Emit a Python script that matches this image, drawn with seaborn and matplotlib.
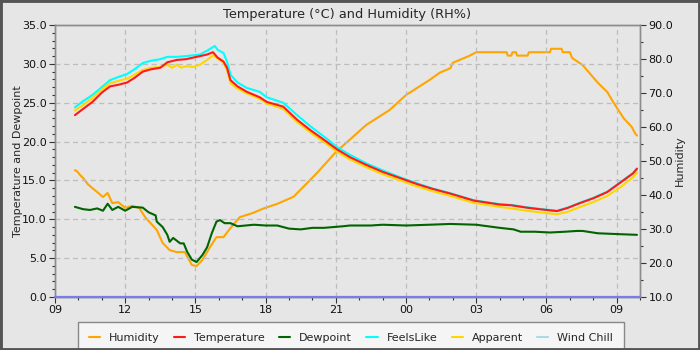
import matplotlib
matplotlib.use("Agg")
import matplotlib.pyplot as plt
from matplotlib.ticker import MultipleLocator, FormatStrFormatter
import seaborn as sns

# ---- data (hours since 00:00 of day 1) ----
temp_h = [9.85, 10.2, 10.6, 11.0, 11.35, 11.7, 12.08, 12.4, 12.75, 13.1, 13.5, 13.8, 14.2, 14.6, 14.9,
          15.2, 15.5, 15.75, 15.95, 16.2, 16.35, 16.5, 16.8, 17.2, 17.75, 18.05, 18.75, 19.35, 19.9,
          20.6, 21.05, 21.6, 22.3, 23.0, 23.75, 24.5, 25.15, 25.9, 26.9, 28.0, 28.5, 29.15, 29.7,
          30.0, 30.45, 30.9, 31.45, 32.0, 32.6, 33.15, 33.7, 33.87]
temperature = [23.4, 24.2, 25.1, 26.3, 27.1, 27.3, 27.6, 28.2, 29.0, 29.3, 29.5, 30.2, 30.5, 30.6, 30.8,
               31.0, 31.2, 31.5, 30.8, 30.3, 29.5, 27.9, 27.1, 26.4, 25.7, 25.1, 24.5, 22.8, 21.5,
               20.0, 19.0, 18.0, 17.0, 16.1, 15.3, 14.5, 13.9, 13.3, 12.4, 11.9, 11.8, 11.5, 11.3,
               11.2, 11.05, 11.45, 12.1, 12.7, 13.5, 14.7, 15.9, 16.5]

feels_h = [9.85, 10.2, 10.6, 11.0, 11.35, 11.7, 12.08, 12.4, 12.75, 13.1, 13.5, 13.8, 14.2, 14.6, 14.9,
           15.2, 15.5, 15.83, 15.95, 16.2, 16.35, 16.5, 16.8, 17.2, 17.75, 18.05, 18.75, 19.35, 19.9,
           20.6, 21.05, 21.6, 22.3, 23.0, 23.75, 24.5, 25.15, 25.9, 26.9, 28.0, 28.5, 29.15, 29.7,
           30.0, 30.45, 30.9, 31.45, 32.0, 32.6, 33.15, 33.7, 33.87]
feelslike = [24.4, 25.2, 26.0, 27.0, 27.9, 28.3, 28.7, 29.3, 30.1, 30.4, 30.6, 30.9, 30.9, 31.0, 31.1,
             31.2, 31.7, 32.3, 31.8, 31.4, 30.3, 28.6, 27.6, 26.9, 26.4, 25.7, 25.0, 23.4, 22.0,
             20.4, 19.3, 18.3, 17.2, 16.3, 15.4, 14.6, 13.95, 13.35, 12.45, 11.95, 11.85, 11.55, 11.35,
             11.25, 11.1, 11.5, 12.15, 12.75, 13.55, 14.75, 15.95, 16.55]

app_h = [9.85, 10.2, 10.6, 11.0, 11.35, 11.7, 12.08, 12.4, 12.75, 13.1, 13.5, 13.8, 14.0, 14.2, 14.4,
         14.6, 14.9, 15.2, 15.5, 15.75, 15.95, 16.2, 16.35, 16.5, 16.8, 17.2, 17.75, 18.05, 18.75,
         19.35, 19.9, 20.6, 21.05, 21.6, 22.3, 23.0, 23.75, 24.5, 25.15, 25.9, 26.9, 28.0, 28.5,
         29.15, 29.7, 30.0, 30.45, 30.9, 31.45, 32.0, 32.6, 33.15, 33.7, 33.87]
apparent = [24.0, 24.7, 25.6, 26.7, 27.5, 27.8, 28.1, 28.6, 29.2, 29.5, 29.6, 29.9, 29.5, 29.9, 29.5,
            29.7, 29.6, 29.9, 30.5, 31.1, 30.7, 30.1, 29.2, 27.5, 26.8, 26.2, 25.5, 24.9, 24.2,
            22.5, 21.2, 19.7, 18.7, 17.7, 16.7, 15.8, 15.0, 14.2, 13.6, 13.0, 12.1, 11.6, 11.4,
            11.1, 10.9, 10.8, 10.65, 10.95, 11.6, 12.2, 13.0, 14.1, 15.4, 16.0]

dew_h = [9.85, 10.2, 10.5, 10.8, 11.05, 11.25, 11.45, 11.7, 12.0, 12.3, 12.75, 13.0, 13.3, 13.35,
         13.6, 13.8, 13.9, 14.05, 14.35, 14.5, 14.65, 14.85, 15.05, 15.3, 15.5, 15.7, 15.9, 16.05,
         16.25, 16.5, 16.8, 17.5, 18.0, 18.5, 19.0, 19.5, 20.0, 20.5, 21.3, 21.6, 22.5, 23.0, 24.0,
         25.0, 25.9, 27.0, 28.0, 28.6, 28.9, 29.5, 30.15, 30.8, 31.3, 31.55, 32.2, 33.0, 33.87]
dewpoint = [11.6, 11.3, 11.2, 11.4, 11.1, 12.0, 11.2, 11.6, 11.1, 11.6, 11.5, 10.9, 10.5, 9.7,
            9.0, 8.0, 7.1, 7.6, 6.9, 6.9, 5.8, 4.8, 4.5, 5.4, 6.4, 8.2, 9.7, 9.9,
            9.5, 9.5, 9.1, 9.3, 9.2, 9.2, 8.8, 8.7, 8.9, 8.9, 9.1, 9.2, 9.2, 9.3, 9.2,
            9.3, 9.4, 9.3, 8.9, 8.7, 8.4, 8.4, 8.3, 8.4, 8.5, 8.5, 8.2, 8.1, 8.0]

hum_h = [9.85, 9.94, 10.07, 10.2, 10.4, 10.6, 10.85, 11.05, 11.25, 11.45, 11.7, 12.0, 12.3, 12.6,
         12.85, 13.35, 13.6, 13.9, 14.2, 14.55, 14.85, 15.05, 15.3, 15.6, 15.9, 16.2, 16.5, 16.9,
         17.45, 17.9, 18.5, 19.2, 20.2, 21.0, 22.3, 23.3, 24.0, 25.0, 25.45, 25.9, 26.0, 26.7, 27.0,
         28.3, 28.35, 28.5, 28.55, 28.7, 28.75, 29.2, 29.25, 30.15, 30.2, 30.65, 30.7, 31.0, 31.1,
         31.55, 32.2, 32.6, 32.85, 33.3, 33.65, 33.8, 33.87]
humidity = [47.3, 47.0, 45.9, 45.0, 43.2, 42.0, 40.6, 39.4, 40.6, 37.6, 37.9, 36.2, 36.8, 36.2,
            33.5, 29.7, 25.9, 23.8, 23.2, 23.2, 19.4, 19.1, 20.9, 24.4, 27.6, 27.6, 30.3, 33.5,
            34.7, 36.0, 37.4, 39.5, 46.5, 52.6, 60.6, 65.0, 69.4, 73.8, 76.0, 77.3, 78.9, 80.9, 82.0,
            82.0, 81.0, 81.0, 82.0, 82.0, 81.0, 81.0, 82.0, 82.0, 83.0, 83.0, 82.0, 82.0, 80.3,
            78.2, 73.0, 70.3, 67.4, 62.6, 60.0, 58.0, 57.5]

x_ticks = [9, 12, 15, 18, 21, 24, 27, 30, 33]
x_labels = ["09", "12", "15", "18", "21", "00", "03", "06", "09"]

# ---- style ----
sns.set_theme(style="ticks")
plt.rcParams["font.family"] = ["DejaVu Sans"]
BG = "#e6e6e6"

fig = plt.figure(figsize=(7, 3.5), dpi=100, facecolor=BG)
ax = fig.add_axes([55/700, 1-297/350, 585/700, 272/350])
ax.set_facecolor(BG)

lw = 1.5
sns.lineplot(x=feels_h, y=feelslike, ax=ax, color="#00ffff", lw=lw, label="FeelsLike", zorder=3)
sns.lineplot(x=app_h, y=apparent, ax=ax, color="#ffd700", lw=lw, label="Apparent", zorder=4)
sns.lineplot(x=temp_h, y=temperature, ax=ax, color="#ff1a1a", lw=lw, label="Temperature", zorder=5)
sns.lineplot(x=dew_h, y=dewpoint, ax=ax, color="#006400", lw=lw, label="Dewpoint", zorder=5)
ax.plot([], [], color="#add8e6", lw=lw, label="Wind Chill")
ax.axhline(0, color="#7b7bea", lw=1.6, zorder=6, clip_on=False)

ax.set_xlim(9, 34)
ax.set_ylim(0, 35)
ax.set_xticks(x_ticks)
ax.set_xticklabels(x_labels)
ax.xaxis.set_minor_locator(MultipleLocator(1))
ax.yaxis.set_major_locator(MultipleLocator(5))
ax.yaxis.set_minor_locator(MultipleLocator(1))
ax.yaxis.set_major_formatter(FormatStrFormatter("%.1f"))
ax.grid(True, which="major", color="#bdbdbd", ls=(0, (4, 3)), lw=0.9)
ax.set_axisbelow(True)
ax.set_ylabel("Temperature and Dewpoint", fontsize=8, labelpad=-1)
ax.tick_params(axis="both", which="major", labelsize=8, length=4, width=0.8, color="#333333",
               labelcolor="#111111", pad=2)
ax.tick_params(axis="both", which="minor", length=2.5, width=0.8, color="#333333")

ax2 = ax.twinx()
sns.lineplot(x=hum_h, y=humidity, ax=ax2, color="#ffa500", lw=lw, label="Humidity", zorder=2)
ax2.set_ylim(10, 90)
ax2.yaxis.set_major_locator(MultipleLocator(10))
ax2.yaxis.set_minor_locator(MultipleLocator(5))
ax2.yaxis.set_major_formatter(FormatStrFormatter("%.1f"))
ax2.set_ylabel("Humidity", fontsize=8, labelpad=1)
ax2.tick_params(axis="y", which="major", labelsize=8, length=4, width=0.8, color="#333333",
                labelcolor="#111111", pad=2)
ax2.tick_params(axis="y", which="minor", length=2.5, width=0.8, color="#333333")
ax2.grid(False)
ax.set_zorder(ax2.get_zorder() + 1)
ax.patch.set_visible(False)
ax2.patch.set_visible(True)
ax2.set_facecolor(BG)

for a in (ax, ax2):
    for s in a.spines.values():
        s.set_color("#8c8c8c")
        s.set_linewidth(1.0)

ax.set_title("Temperature (°C) and Humidity (RH%)", fontsize=9.3, pad=5)

h1, l1 = ax.get_legend_handles_labels()
h2, l2 = ax2.get_legend_handles_labels()
ax.get_legend().remove()
ax2.get_legend().remove()
hd = dict(zip(l1 + l2, h1 + h2))
order = ["Humidity", "Temperature", "Dewpoint", "FeelsLike", "Apparent", "Wind Chill"]
leg = fig.legend([hd[k] for k in order], order, loc="upper center",
                 bbox_to_anchor=(351/700, 1 - 322/350),
                 ncol=6, fontsize=8, frameon=True, fancybox=False, handlelength=1.0,
                 handletextpad=0.8, columnspacing=1.3, borderpad=0.95, borderaxespad=0)
leg.get_frame().set_facecolor("#f5f5f5")
leg.get_frame().set_edgecolor("#888888")
leg.get_frame().set_alpha(1)

# outer border
fig.patches.append(plt.Rectangle((0, 0), 1, 1, transform=fig.transFigure, fill=False,
                                 edgecolor="#555555", lw=3.5, zorder=10))

fig.savefig("out.png", dpi=100, facecolor=BG)
